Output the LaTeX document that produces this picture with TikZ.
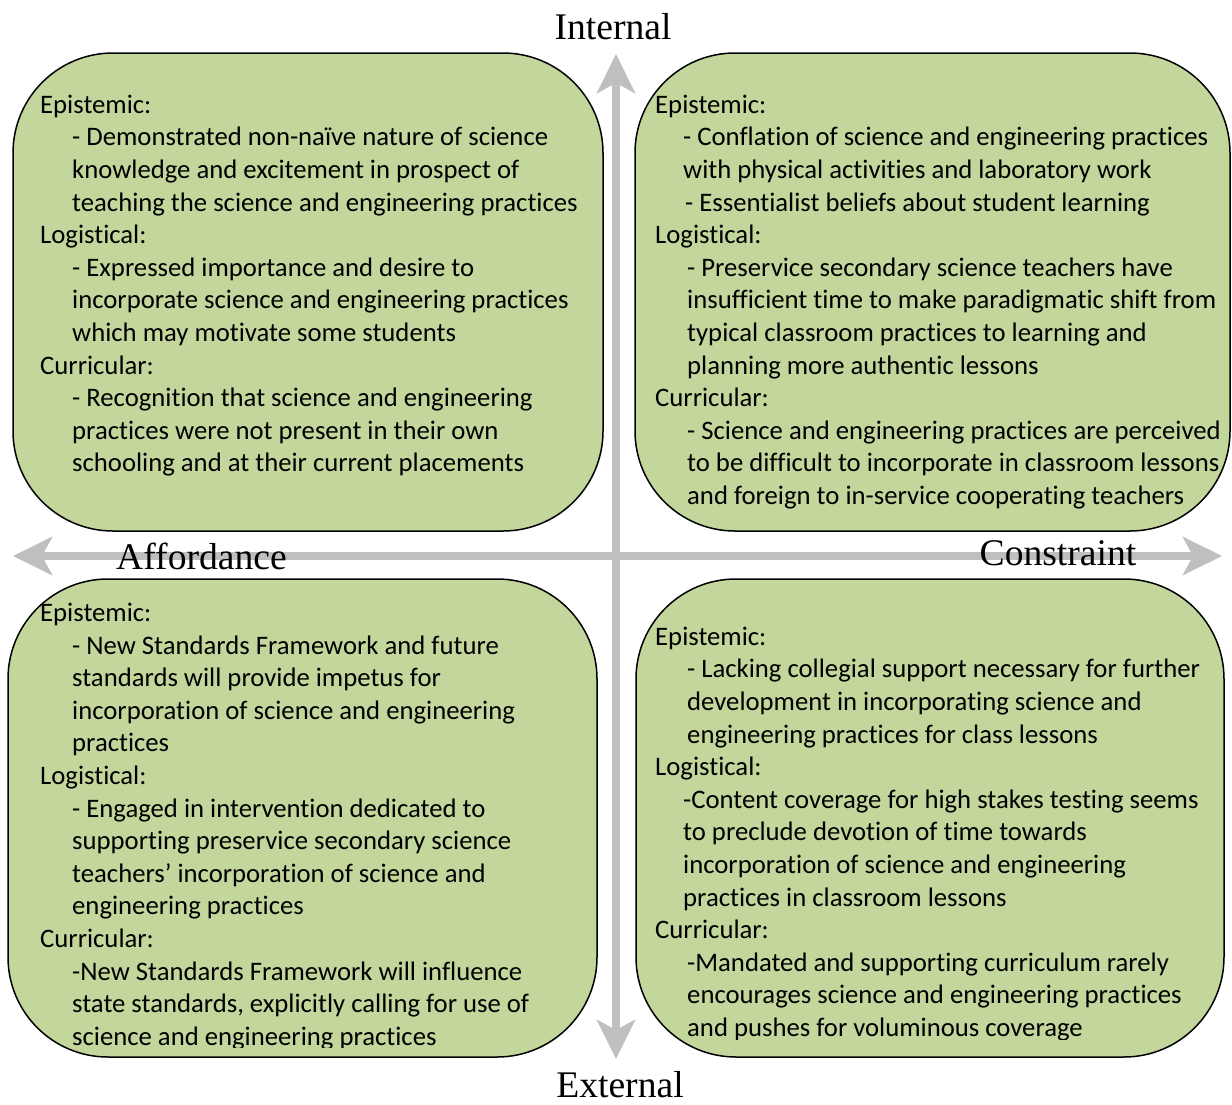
\documentclass[tikz,border=0pt]{standalone}
\usepackage{fontspec}
\setmainfont{Carlito}[Ligatures={NoCommon,NoContextual}]
\newfontfamily\axisfont{Liberation Serif}
\usetikzlibrary{arrows.meta}
\definecolor{boxgreen}{HTML}{C3D69B}
\definecolor{axisgray}{HTML}{BFBFBF}
\tikzset{
  quadbox/.style={draw=black, line width=1.5pt, fill=boxgreen, rounded corners=100pt, inner sep=0pt},
  axisarrow/.style={draw=axisgray, line width=8pt,
    {Stealth[length=39pt,width=38pt,inset=10pt]}-{Stealth[length=39pt,width=38pt,inset=10pt]}},
  axislabel/.style={font=\axisfont\fontsize{37.6}{42}\selectfont, inner sep=0pt, anchor=base},
  txtline/.style={font=\fontsize{26.7}{32.6}\selectfont, inner sep=0pt, anchor=base west},
}
\begin{document}
\begin{tikzpicture}[x=1pt,y=-1pt]
\useasboundingbox (0,0) rectangle (1232,1104);

% axes
\coordinate (itop) at (616,54);
\coordinate (ibot) at (616,1059);
\coordinate (aleft) at (13,556);
\coordinate (cright) at (1222,556);
\draw[axisarrow] (ibot) -- (itop);
\draw[axisarrow] (aleft) -- (cright);

% boxes
\node[quadbox, minimum width=590pt, minimum height=478pt] (tl) at (308,292) {};
\node[quadbox, minimum width=595pt, minimum height=478pt] (tr) at (932.5,292) {};
\node[quadbox, minimum width=589pt, minimum height=478pt] (bl) at (302.5,818) {};
\node[quadbox, minimum width=588pt, minimum height=478pt] (br) at (930,818) {};

% axis labels
\node[axislabel] (internal) at (613,39) {Internal};
\node[axislabel] (external) at (620,1097) {External};
\node[axislabel] (affordance) at (201.5,569) {Affordance};
\node[axislabel] (constraint) at (1058,565) {Constraint};

% top left text
\foreach \dx/\txt [count=\i from 0] in {
  0/Epistemic:,
  32/- Demonstrated non-naïve nature of science,
  32/knowledge and excitement in prospect of,
  32/teaching the science and engineering practices,
  0/Logistical:,
  32/- Expressed importance and desire to,
  32/incorporate science and engineering practices,
  32/which may motivate some students,
  0/Curricular:,
  32/- Recognition that science and engineering,
  32/practices were not present in their own,
  32/schooling and at their current placements}
  \node[txtline] (tl\i) at (40+\dx,113.3+32.6*\i) {\txt};

% top right text
\foreach \dx/\txt [count=\i from 0] in {
  0/Epistemic:,
  28/- Conflation of science and engineering practices,
  28/with physical activities and laboratory work,
  30/- Essentialist beliefs about student learning,
  0/Logistical:,
  32/- Preservice secondary science teachers have,
  32/insufficient time to make paradigmatic shift from,
  32/typical classroom practices to learning and,
  32/planning more authentic lessons,
  0/Curricular:,
  32/- Science and engineering practices are perceived,
  32/to be difficult to incorporate in classroom lessons,
  32/and foreign to in-service cooperating teachers}
  \node[txtline] (tr\i) at (655+\dx,113.3+32.6*\i) {\txt};

% bottom left text
\begin{scope}
\clip (0,570) rectangle (610,1047.5);
\foreach \dx/\txt [count=\i from 0] in {
  0/Epistemic:,
  32/- New Standards Framework and future,
  32/standards will provide impetus for,
  32/incorporation of science and engineering,
  32/practices,
  0/Logistical:,
  32/- Engaged in intervention dedicated to,
  32/supporting preservice secondary science,
  32/teachers’ incorporation of science and,
  32/engineering practices,
  0/Curricular:,
  32/-New Standards Framework will influence,
  32/{state standards, explicitly calling for use of},
  32/science and engineering practices}
  \node[txtline] (bl\i) at (40+\dx,621.4+32.6*\i) {\txt};
\end{scope}

% bottom right text
\begin{scope}
\clip (620,570) rectangle (1232,1039);
\foreach \dx/\txt [count=\i from 0] in {
  0/Epistemic:,
  32/- Lacking collegial support necessary for further,
  32/development in incorporating science and,
  32/engineering practices for class lessons,
  0/Logistical:,
  28/-Content coverage for high stakes testing seems,
  28/to preclude devotion of time towards,
  28/incorporation of science and engineering,
  28/practices in classroom lessons,
  0/Curricular:,
  32/-Mandated and supporting curriculum rarely,
  32/encourages science and engineering practices,
  32/and pushes for voluminous coverage}
  \node[txtline] (br\i) at (655+\dx,645.3+32.6*\i) {\txt};
\end{scope}
\end{tikzpicture}
\end{document}
